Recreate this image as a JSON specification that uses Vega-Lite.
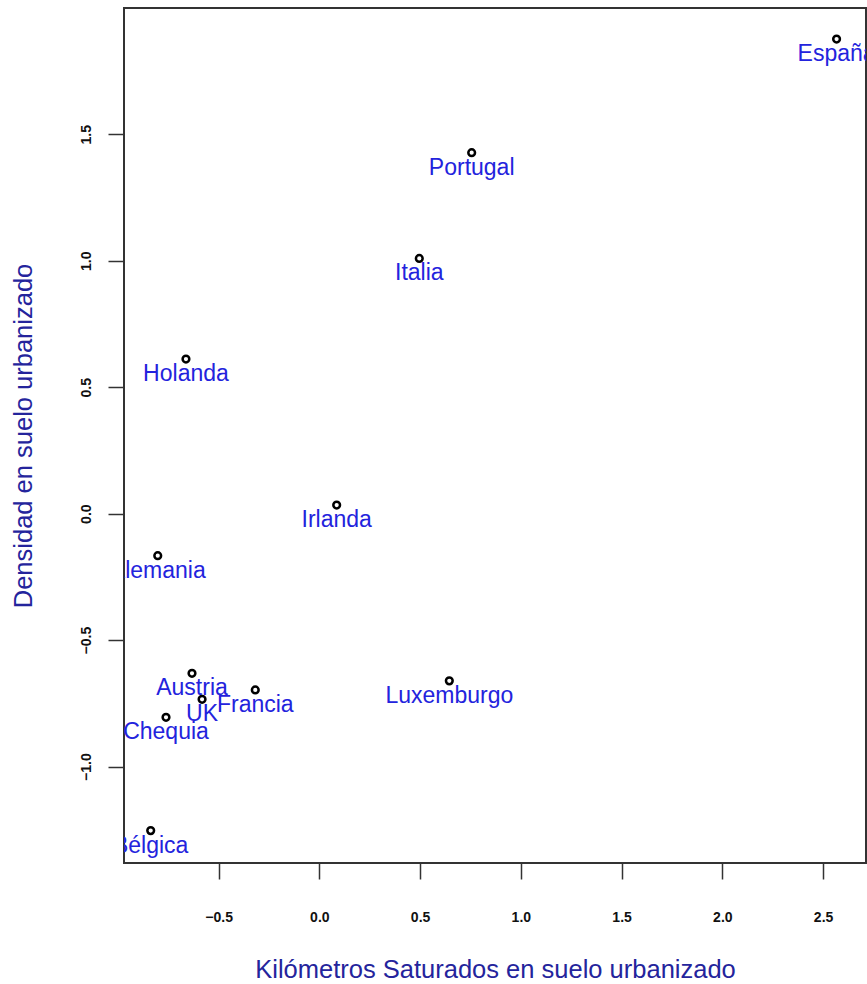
{
  "$schema": "https://vega.github.io/schema/vega-lite/v6.json",
  "width": 742,
  "height": 855,
  "autosize": "none",
  "padding": {"left": 124, "top": 8, "right": 1, "bottom": 121},
  "background": "white",
  "config": {
    "view": {"stroke": "#333333", "strokeWidth": 2},
    "font": "Liberation Sans"
  },
  "data": {
    "values": [
      {"pais": "España", "x": 2.567, "y": 1.876},
      {"pais": "Portugal", "x": 0.756, "y": 1.427},
      {"pais": "Italia", "x": 0.496, "y": 1.009},
      {"pais": "Holanda", "x": -0.662, "y": 0.611},
      {"pais": "Irlanda", "x": 0.086, "y": 0.034},
      {"pais": "Alemania", "x": -0.802, "y": -0.166},
      {"pais": "Austria", "x": -0.632, "y": -0.631},
      {"pais": "UK", "x": -0.582, "y": -0.734},
      {"pais": "Francia", "x": -0.318, "y": -0.697},
      {"pais": "Luxemburgo", "x": 0.645, "y": -0.661},
      {"pais": "Chequia", "x": -0.761, "y": -0.805},
      {"pais": "Bélgica", "x": -0.837, "y": -1.253}
    ]
  },
  "encoding": {
    "x": {
      "field": "x",
      "type": "quantitative",
      "scale": {"domain": [-0.9695, 2.713], "nice": false, "zero": false},
      "axis": {
        "values": [-0.5, 0, 0.5, 1, 1.5, 2, 2.5],
        "format": ".1f",
        "domain": false,
        "grid": false,
        "ticks": true,
        "tickSize": 16,
        "tickColor": "#333333",
        "tickWidth": 1.5,
        "labelFont": "Liberation Sans",
        "labelFontSize": 14,
        "labelFontWeight": "bold",
        "labelColor": "#111111",
        "labelPadding": 31,
        "titleFont": "Liberation Sans",
        "titleFontSize": 25.5,
        "titleFontWeight": "normal",
        "titleColor": "#24249c",
        "titlePadding": 33
      },
      "title": "Kilómetros Saturados en suelo urbanizado"
    },
    "y": {
      "field": "y",
      "type": "quantitative",
      "scale": {"domain": [-1.381, 1.999], "nice": false, "zero": false},
      "axis": {
        "values": [-1, -0.5, 0, 0.5, 1, 1.5],
        "format": ".1f",
        "domain": false,
        "grid": false,
        "tickSize": 16,
        "tickColor": "#333333",
        "tickWidth": 1.5,
        "labelAngle": -90,
        "labelAlign": "center",
        "labelBaseline": "bottom",
        "labelFont": "Liberation Sans",
        "labelFontSize": 14,
        "labelFontWeight": "bold",
        "labelColor": "#111111",
        "labelPadding": 15,
        "titleFont": "Liberation Sans",
        "titleFontSize": 25.5,
        "titleFontWeight": "normal",
        "titleColor": "#24249c",
        "titlePadding": 43
      },
      "title": "Densidad en suelo urbanizado"
    }
  },
  "layer": [
    {
      "mark": {"type": "point", "shape": "circle", "filled": false, "stroke": "black", "strokeWidth": 2.5, "size": 45, "opacity": 1}
    },
    {
      "mark": {"type": "text", "dy": 22, "baseline": "alphabetic", "align": "center", "fontSize": 23, "color": "#2323dd", "clip": true, "font": "Liberation Sans"},
      "encoding": {"text": {"field": "pais"}}
    }
  ]
}
